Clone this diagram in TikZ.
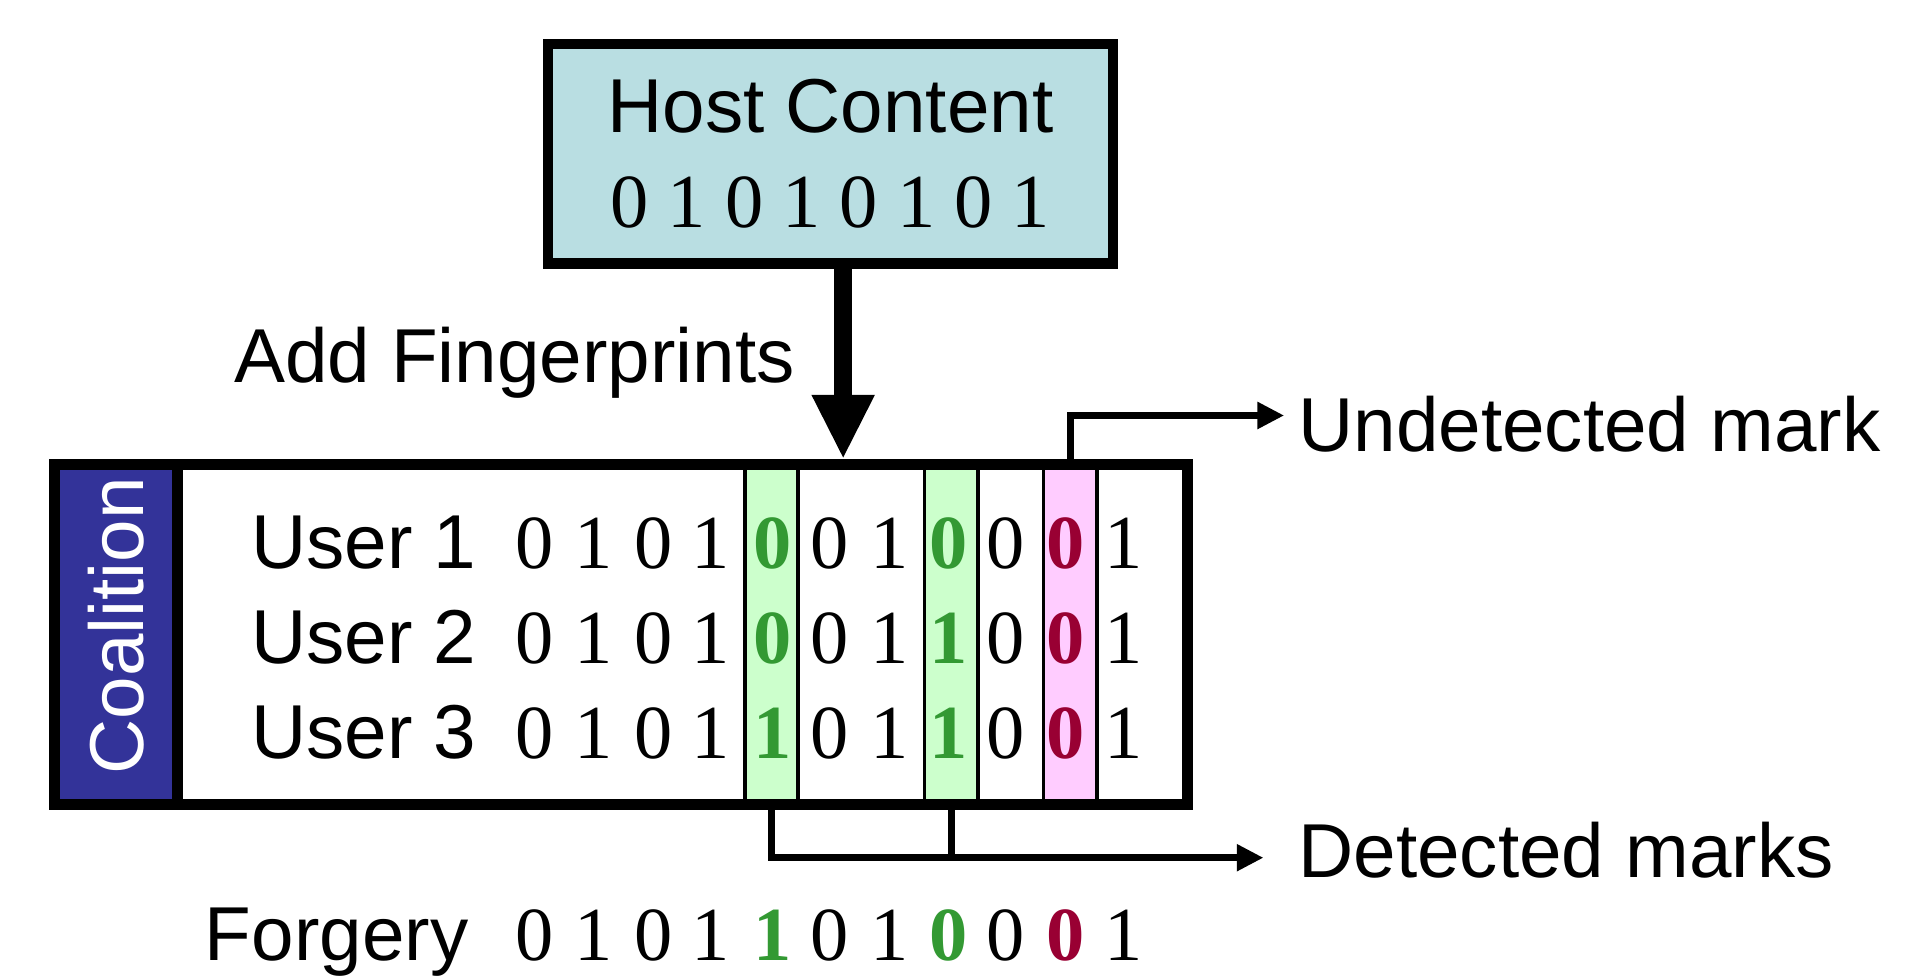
\documentclass[tikz,border=0pt]{standalone}
\usepackage{fontspec}
\setmainfont{Liberation Serif}
\setsansfont{Liberation Sans}
\usetikzlibrary{arrows.meta,positioning}
\definecolor{hostfill}{RGB}{185,222,226}
\definecolor{coalblue}{RGB}{51,51,153}
\definecolor{stripgreen}{RGB}{204,255,204}
\definecolor{strippink}{RGB}{255,204,255}
\definecolor{markgreen}{RGB}{51,153,51}
\definecolor{markred}{RGB}{153,0,51}

\begin{document}
\begin{tikzpicture}
      [line join=miter,x=0.1mm,y=-0.1mm,
       txt/.style={font=\fontsize{17.9}{21}\sffamily,inner sep=0pt,anchor=base west},
       bit/.style={font=\fontsize{17.9}{21}\rmfamily,inner sep=0pt,anchor=base},
       gbit/.style={bit,font=\fontsize{17.9}{21}\rmfamily\bfseries,text=markgreen},
       rbit/.style={gbit,text=markred},
       strip/.style={draw=black,line width=0.3mm,minimum width=4.4mm,minimum height=28mm,inner sep=0pt},
       markline/.style={line width=0.55mm},
       markarrow/.style={markline,-{Triangle[length=2.2mm,width=2.1mm]}}]

\useasboundingbox (0,0) rectangle (1568,803);

%host content on top
\node[draw,line width=0.85mm,fill=hostfill,minimum width=46.5mm,minimum height=18.1mm,
      align=center,font=\fontsize{17.9}{22.2}\sffamily] (host) at (683.5,126.5)
      {Host Content\\\rmfamily 0 1 0 1 0 1 0 1};
\node[txt] (addfp) at (192,315) {Add Fingerprints};

%coalition box, strips go first
\node[strip,fill=stripgreen] (strip5) at (635,522.5) {};
\node[strip,fill=stripgreen] (strip8) at (783,522.5) {};
\node[strip,fill=strippink] (strip10) at (881,522.5) {};
\node[draw,line width=0.9mm,minimum width=93.3mm,minimum height=28mm,inner sep=0pt] (coal) at (511,522.5) {};
\fill[coalblue] (49,387) rectangle (146,658);
\draw[line width=0.9mm] (146,382.5) -- (146,662.5);
\node[txt,anchor=center,rotate=90,text=white] (coalition) at (96,515) {Coalition};

%users and forgery
\foreach \k/\yy in {1/468,2/546,3/624}
  \node[txt] (user\k) at (206,\yy) {User \k};
\node[txt] (forgery) at (168,791) {Forgery};

\foreach \xx/\kind/\bitA/\bitB/\bitC/\bitF [count=\c] in
   {440/bit/0/0/0/0, 489/bit/1/1/1/1, 538/bit/0/0/0/0, 585/bit/1/1/1/1,
    636/gbit/0/0/1/1, 683/bit/0/0/0/0, 732/bit/1/1/1/1, 781/gbit/0/1/1/0,
    828/bit/0/0/0/0, 877/rbit/0/0/0/0, 925/bit/1/1/1/1}{
  \node[\kind] (u1b\c) at (\xx,468) {\bitA};
  \node[\kind] (u2b\c) at (\xx,546) {\bitB};
  \node[\kind] (u3b\c) at (\xx,624) {\bitC};
  \node[\kind] (fb\c) at (\xx,791) {\bitF};
}

%arrows
\coordinate (feed) at (694,0);
\draw[line width=1.5mm,-{Triangle[length=5.3mm,width=4.8mm]}] (host.south -| feed) -- (coal.north -| feed);

\coordinate (undettip) at (1057,342);
\draw[markarrow] (strip10.north) |- (undettip);
\node[txt] (undet) at (1068,372) {Undetected mark};

\coordinate (dettip) at (1040,706);
\draw[markarrow] (strip5.south) |- (dettip);
\draw[markline] (strip8.south) -- (strip8.south |- dettip);
\node[txt] (det) at (1068,722) {Detected marks};

\end{tikzpicture}
\end{document}
